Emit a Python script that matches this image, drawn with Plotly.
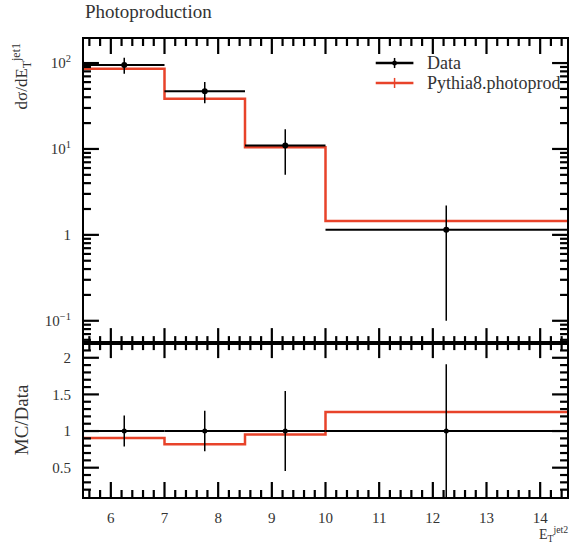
import math
import plotly.graph_objects as go

# Binning in E_T^jet2
bin_edges = [5.5, 7.0, 8.5, 10.0, 14.5]
bin_centres = [6.25, 7.75, 9.25, 12.25]
bin_halfwidths = [0.75, 0.75, 0.75, 2.25]

# Measured cross section and uncertainties
data_vals = [95.0, 47.0, 11.0, 1.15]
data_errs = [20.0, 13.0, 6.0, 1.05]

# Pythia8 photoproduction prediction
mc_vals = [86.0, 38.5, 10.5, 1.45]
mc_errs = [2.0, 1.5, 0.3, 0.04]

RED = "#E8432A"
FONT = "Liberation Serif"

X_RANGE = [5.5, 14.5]
LOGY_RANGE = [-1.26, 2.28]
RATIO_RANGE = [0.1, 2.2]

ratio_vals = [m / d for m, d in zip(mc_vals, data_vals)]
data_rel_errs = [e / d for e, d in zip(data_errs, data_vals)]

# tick positions
x_major = [6, 7, 8, 9, 10, 11, 12, 13, 14]
x_minor = [round(5.6 + 0.2 * i, 1) for i in range(45)]
x_minor = [v for v in x_minor if abs(v - round(v)) > 1e-6]
log_major = [0.1, 1, 10, 100]
log_minor = [m * 10.0 ** p for p in (-2, -1, 0, 1) for m in range(2, 10)]
log_minor = [v for v in log_minor if 0.055 < v < 190]
ratio_major = [0.5, 1, 1.5, 2]
ratio_minor = [round(0.1 * i, 1) for i in range(2, 22)]
ratio_minor = [v for v in ratio_minor if v not in ratio_major]

# plot-area geometry (pixels)
MARGIN = dict(l=84, r=3, t=39, b=47)
W, H = 572, 544
PLOT_W = W - MARGIN["l"] - MARGIN["r"]
PLOT_H = H - MARGIN["t"] - MARGIN["b"]
SPLIT = 0.336
MAJOR_LEN, MINOR_LEN = 15, 7

fig = go.Figure()

# --- main panel -----------------------------------------------------------
fig.add_trace(go.Scatter(
    x=bin_edges, y=mc_vals + [mc_vals[-1]], mode="lines", line_shape="hv",
    line=dict(color=RED, width=2.5), xaxis="x2", yaxis="y2", hoverinfo="skip",
))
fig.add_trace(go.Scatter(
    x=bin_centres, y=mc_vals, mode="markers", marker=dict(size=1, color=RED),
    error_y=dict(type="data", array=mc_errs, color=RED, thickness=1.5, width=0),
    xaxis="x2", yaxis="y2",
))
fig.add_trace(go.Scatter(
    x=bin_centres, y=data_vals, mode="markers",
    marker=dict(size=6, color="black"),
    error_x=dict(type="data", array=bin_halfwidths, color="black", thickness=2, width=0),
    error_y=dict(type="data", array=data_errs, color="black", thickness=1.5, width=0),
    xaxis="x2", yaxis="y2",
))

# --- ratio panel ----------------------------------------------------------
fig.add_trace(go.Scatter(
    x=bin_edges, y=ratio_vals + [ratio_vals[-1]], mode="lines", line_shape="hv",
    line=dict(color=RED, width=2.5), xaxis="x", yaxis="y",
))
fig.add_trace(go.Scatter(
    x=bin_centres, y=[1.0] * len(bin_centres), mode="markers",
    marker=dict(size=5, color="black"),
    error_x=dict(type="data", array=bin_halfwidths, color="black", thickness=2, width=0),
    error_y=dict(type="data", array=data_rel_errs, color="black", thickness=1.5, width=0),
    xaxis="x", yaxis="y",
))


def axis(**kw):
    base = dict(
        showline=True, linecolor="black", linewidth=2, mirror=True,
        ticks="", showgrid=False, zeroline=False,
        tickfont=dict(family=FONT, size=15, color="#333"),
    )
    base.update(kw)
    return base


fig.update_layout(
    width=W, height=H, margin=MARGIN,
    plot_bgcolor="white", paper_bgcolor="white",
    showlegend=False,
    xaxis=axis(range=X_RANGE, domain=[0, 1], anchor="y", tickvals=x_major,
               ticklabelstandoff=6),
    yaxis=axis(range=RATIO_RANGE, domain=[0, SPLIT], anchor="x",
               tickvals=ratio_major, ticktext=["0.5", "1", "1.5", "2"],
               ticklabelstandoff=8),
    xaxis2=axis(range=X_RANGE, domain=[0, 1], anchor="y2", tickvals=x_major,
                showticklabels=False),
    yaxis2=axis(type="log", range=LOGY_RANGE, domain=[SPLIT, 1], anchor="x2",
                tickvals=log_major,
                ticktext=["10<sup>−1</sup>", "1", "10<sup>1</sup>", "10<sup>2</sup>"],
                ticklabelstandoff=8),
)


# --- tick marks on all four sides of both panels (paper coordinates) -------
def frac(v, lo, hi):
    return (v - lo) / (hi - lo)


def tick_line(x0, x1, y0, y1):
    fig.add_shape(type="line", xref="paper", yref="paper",
                  x0=x0, x1=x1, y0=y0, y1=y1,
                  line=dict(color="black", width=2.2), layer="above")


panels = [
    ((SPLIT, 1.0), (log_major, log_minor), math.log10, LOGY_RANGE),
    ((0.0, SPLIT), (ratio_major, ratio_minor), lambda v: v, RATIO_RANGE),
]
for (d0, d1), (ymaj, ymin), tf, yr in panels:
    for vals, length in ((x_major, MAJOR_LEN), (x_minor, MINOR_LEN)):
        dy = length / PLOT_H
        for v in vals:
            px = frac(v, *X_RANGE)
            tick_line(px, px, d0, d0 + dy)
            tick_line(px, px, d1, d1 - dy)
    for vals, length in ((ymaj, MAJOR_LEN), (ymin, MINOR_LEN)):
        dx = length / PLOT_W
        for v in vals:
            py = d0 + frac(tf(v), *yr) * (d1 - d0)
            tick_line(0, dx, py, py)
            tick_line(1, 1 - dx, py, py)

# Title and axis labels
fig.add_annotation(
    text="Photoproduction", xref="paper", yref="paper",
    x=-0.002, y=1.033, xanchor="left", yanchor="bottom", showarrow=False,
    font=dict(family=FONT, size=19, color="#333"),
)
fig.add_annotation(
    text="dσ/dE<sub>T</sub><sup>jet1</sup>", xref="paper", yref="paper",
    x=-0.13, y=0.995, xanchor="center", yanchor="top", textangle=-90,
    showarrow=False, font=dict(family=FONT, size=17, color="#333"),
)
fig.add_annotation(
    text="MC/Data", xref="paper", yref="paper",
    x=-0.13, y=0.168, xanchor="center", yanchor="middle", textangle=-90,
    showarrow=False, font=dict(family=FONT, size=19, color="#333"),
)
fig.add_annotation(
    text="E<sub>T</sub><sup>jet2</sup>", xref="paper", yref="paper",
    x=1.006, y=-0.054, xanchor="right", yanchor="top",
    showarrow=False, font=dict(family=FONT, size=14, color="#333"),
)

# Legend
legend_entries = [("Data", "black", 0.9476), ("Pythia8.photoprod", RED, 0.904)]
for label, colour, ypos in legend_entries:
    fig.add_shape(type="line", xref="paper", yref="paper",
                  x0=0.604, x1=0.682, y0=ypos, y1=ypos,
                  line=dict(color=colour, width=2.5))
    fig.add_shape(type="line", xref="paper", yref="paper",
                  x0=0.643, x1=0.643, y0=ypos - 0.011, y1=ypos + 0.011,
                  line=dict(color=colour, width=1.5))
    fig.add_annotation(
        text=label, xref="paper", yref="paper", x=0.707, y=ypos,
        xanchor="left", yanchor="middle", showarrow=False,
        font=dict(family=FONT, size=18, color="#333"),
    )
fig.add_shape(type="circle", xref="paper", yref="paper",
              x0=0.643 - 0.005, x1=0.643 + 0.005,
              y0=0.9476 - 0.0055, y1=0.9476 + 0.0055,
              fillcolor="black", line=dict(color="black", width=0))

fig.write_html("out.html")
